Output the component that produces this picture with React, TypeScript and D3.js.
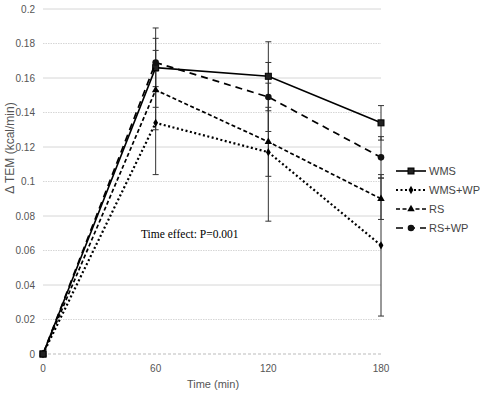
import React from "react";
import * as d3 from "d3";

const times = [0, 60, 120, 180];
const seriesNames = ["WMS", "WMS+WP", "RS", "RS+WP"];
const wms = [0, 0.166, 0.161, 0.134];
const wmsErr = [0, 0.023, 0.020, 0.010];
const wmsWp = [0, 0.134, 0.117, 0.063];
const wmsWpErr = [0, 0.030, 0.040, 0.041];
const rs = [0, 0.153, 0.123, 0.090];
const rsErr = [0, 0.023, 0.020, 0.012];
const rsWp = [0, 0.169, 0.149, 0.114];
const rsWpErr = [0, 0.014, 0.020, 0.012];
const yTicks = [0, 0.02, 0.04, 0.06, 0.08, 0.1, 0.12, 0.14, 0.16, 0.18, 0.2];
const xTicks = [0, 60, 120, 180];

const W = 480, H = 396;
const x = d3.scaleLinear().domain([0, 180]).range([43, 381]);
const y = d3.scaleLinear().domain([0, 0.2]).range([354, 9]);

const series = [
  { name: seriesNames[0], v: wms, e: wmsErr, dash: "none", width: 1.6, marker: "square" },
  { name: seriesNames[1], v: wmsWp, e: wmsWpErr, dash: "2,2.5", width: 2.2, marker: "diamond" },
  { name: seriesNames[2], v: rs, e: rsErr, dash: "4,2.5", width: 1.7, marker: "triangle" },
  { name: seriesNames[3], v: rsWp, e: rsWpErr, dash: "7,5", width: 1.7, marker: "circle" },
];

function Marker({ type, cx, cy }: { type: string; cx: number; cy: number }) {
  if (type === "square") return <rect x={cx - 3} y={cy - 3} width={6} height={6} fill="#222" stroke="#000" strokeWidth={1} />;
  if (type === "diamond") return <path d={d3.symbol(d3.symbolDiamond, 20)()!} transform={`translate(${cx},${cy})`} fill="#000" />;
  if (type === "triangle") return <path d={d3.symbol(d3.symbolTriangle, 24)()!} transform={`translate(${cx},${cy})`} fill="#000" />;
  return <circle cx={cx} cy={cy} r={3.3} fill="#111" />;
}

export default function App() {
  const line = d3.line<number>().x((_, i) => x(times[i])).y((d) => y(d));
  const font = "'Liberation Sans', Arial, sans-serif";
  return (
    <svg width={W} height={H} style={{ position: "absolute", left: 0, top: 0, background: "#fff" }}>
      <rect width={W} height={H} fill="#fff" />
      {yTicks.map((t, i) => (
        <line key={t} x1={43} x2={381} y1={y(t)} y2={y(t)}
          stroke={i === 0 ? "#bbb" : "#d6d6d6"} strokeWidth={1}
          strokeDasharray={i === 0 ? "3,2" : i % 2 === 0 ? "none" : "1.5,1"} />
      ))}
      {yTicks.map((t) => (
        <text key={t} x={35} y={y(t) + 3.5} textAnchor="end" fontSize={10} fontFamily={font} fill="#555">
          {d3.format("")(+t.toFixed(2))}
        </text>
      ))}
      {xTicks.map((t) => (
        <text key={t} x={x(t)} y={372} textAnchor="middle" fontSize={10} fontFamily={font} fill="#555">{t}</text>
      ))}
      <text x={213} y={388} textAnchor="middle" fontSize={11} fontFamily={font} fill="#555">Time (min)</text>
      <text transform={`translate(14,148) rotate(-90)`} textAnchor="middle" fontSize={12} fontFamily={font} fill="#555">Δ TEM (kcal/min)</text>
      {series.map((s) =>
        s.v.map((v, i) => {
          if (i === 0) return null;
          const cx = x(times[i]);
          const hi = y(v + s.e[i]);
          const lo = y(v - s.e[i]);
          return (
            <g key={s.name + i} stroke="#333" strokeWidth={1}>
              <line x1={cx} x2={cx} y1={hi} y2={lo} />
              <line x1={cx - 3} x2={cx + 3} y1={hi} y2={hi} />
              <line x1={cx - 3} x2={cx + 3} y1={lo} y2={lo} />
            </g>
          );
        })
      )}
      {series.map((s) => (
        <g key={s.name}>
          <path d={line(s.v)!} fill="none" stroke="#000" strokeWidth={s.width} strokeDasharray={s.dash} />
          {s.v.map((v, i) => (
            <Marker key={i} type={s.marker} cx={x(times[i])} cy={y(v)} />
          ))}
        </g>
      ))}
      <Marker type="square" cx={x(0)} cy={y(0)} />
      <text x={141} y={238} fontSize={11.5} fontFamily="'Liberation Serif', 'Times New Roman', serif" fill="#000">Time effect: P=0.001</text>
      {series.map((s, i) => {
        const ly = 171 + i * 19;
        return (
          <g key={s.name}>
            <line x1={396} x2={426} y1={ly} y2={ly} stroke="#000" strokeWidth={s.width} strokeDasharray={s.dash} />
            <Marker type={s.marker} cx={411} cy={ly} />
            <text x={429} y={ly + 4} fontSize={11} fontFamily={font} fill="#444">{s.name}</text>
          </g>
        );
      })}
    </svg>
  );
}
